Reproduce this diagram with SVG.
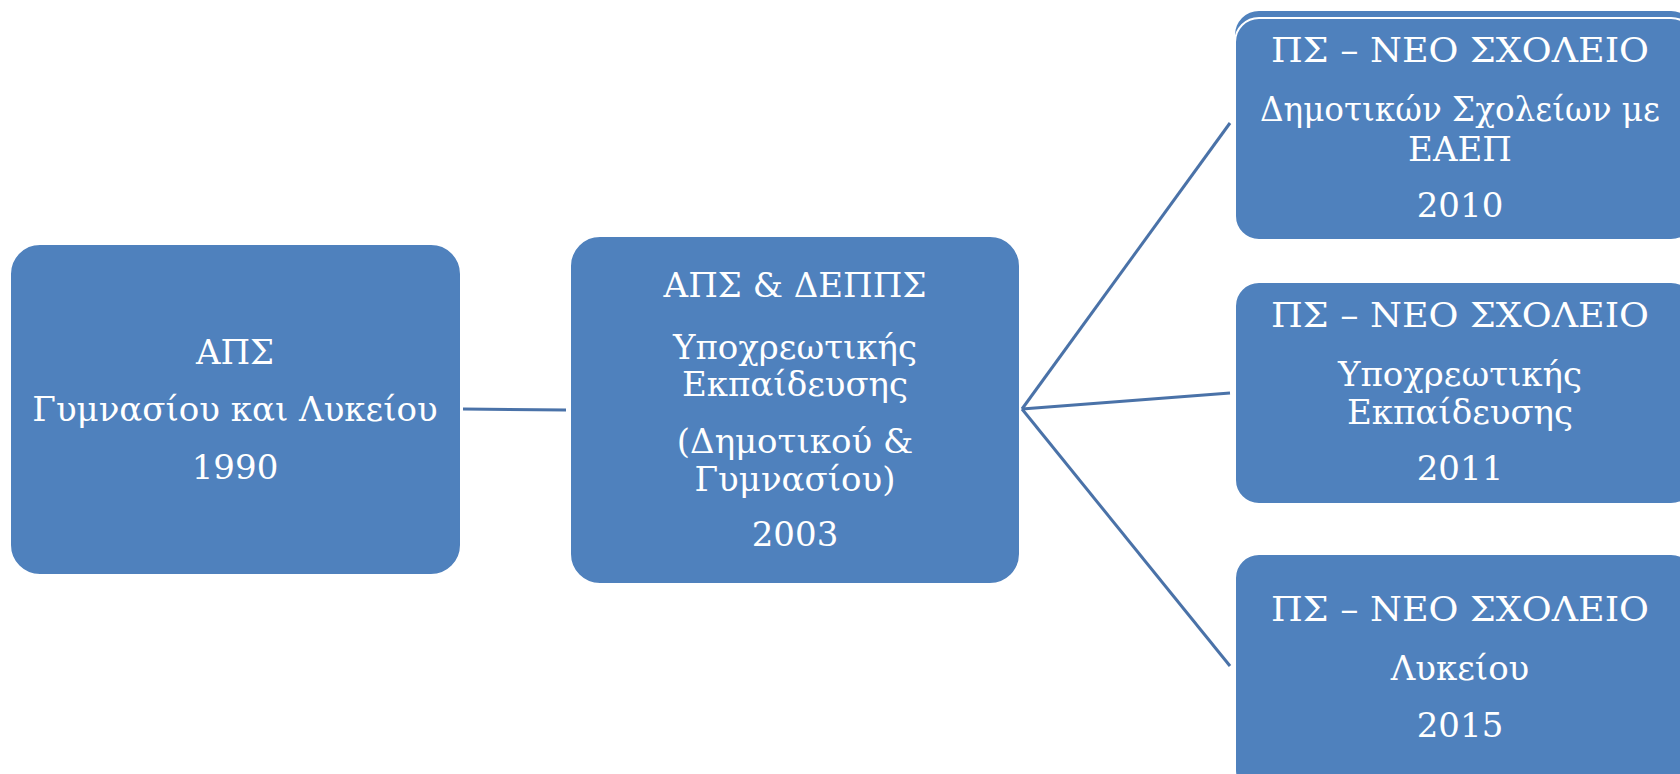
<svg xmlns="http://www.w3.org/2000/svg" width="1680" height="774" viewBox="0 0 1680 774">
<style>
.box{fill:#4F81BD;stroke:#FFFFFF;stroke-width:2}
.t{font-family:"DejaVu Serif","Liberation Serif",serif;font-size:34px;fill:#FFFFFF;text-anchor:middle}
.c{stroke:#4A72A8;stroke-width:3;fill:none}
</style>
<rect width="1680" height="774" fill="#FFFFFF"/>
<g id="connectors">
<line class="c" x1="463" y1="409" x2="566" y2="410"/>
<line class="c" x1="1022" y1="409" x2="1230" y2="123"/>
<line class="c" x1="1022" y1="409" x2="1230" y2="393"/>
<line class="c" x1="1022" y1="409" x2="1230" y2="666"/>
</g>
<g id="node-aps-1990">
<rect class="box" x="10" y="244" width="451" height="331" rx="30"/>
<text class="t" x="235" y="364">ΑΠΣ</text>
<text class="t" x="235" y="421">Γυμνασίου και Λυκείου</text>
<text class="t" x="235" y="479">1990</text>
</g>
<g id="node-aps-depps-2003">
<rect class="box" x="570" y="236" width="450" height="348" rx="30"/>
<text class="t" x="795" y="297">ΑΠΣ &amp; ΔΕΠΠΣ</text>
<text class="t" x="795" y="359">Υποχρεωτικής</text>
<text class="t" x="795" y="396">Εκπαίδευσης</text>
<text class="t" x="795" y="453">(Δημοτικού &amp;</text>
<text class="t" x="795" y="491">Γυμνασίου)</text>
<text class="t" x="795" y="546">2003</text>
</g>
<g id="node-ps-2010">
<rect x="1235" y="11" width="460" height="222" rx="24" fill="#4F81BD"/>
<rect class="box" x="1235" y="18" width="460" height="222" rx="24" stroke-width="3"/>
<text class="t" x="1460" y="62" textLength="378" lengthAdjust="spacingAndGlyphs">ΠΣ – ΝΕΟ ΣΧΟΛΕΙΟ</text>
<text class="t" x="1460" y="121" textLength="400" lengthAdjust="spacingAndGlyphs">Δημοτικών Σχολείων με</text>
<text class="t" x="1460" y="161">ΕΑΕΠ</text>
<text class="t" x="1460" y="217">2010</text>
</g>
<g id="node-ps-2011">
<rect class="box" x="1235" y="282" width="460" height="222" rx="24"/>
<text class="t" x="1460" y="327" textLength="378" lengthAdjust="spacingAndGlyphs">ΠΣ – ΝΕΟ ΣΧΟΛΕΙΟ</text>
<text class="t" x="1460" y="386">Υποχρεωτικής</text>
<text class="t" x="1460" y="424">Εκπαίδευσης</text>
<text class="t" x="1460" y="480">2011</text>
</g>
<g id="node-ps-2015">
<rect class="box" x="1235" y="554" width="460" height="240" rx="24"/>
<text class="t" x="1460" y="621" textLength="378" lengthAdjust="spacingAndGlyphs">ΠΣ – ΝΕΟ ΣΧΟΛΕΙΟ</text>
<text class="t" x="1460" y="680">Λυκείου</text>
<text class="t" x="1460" y="737">2015</text>
</g>
</svg>
